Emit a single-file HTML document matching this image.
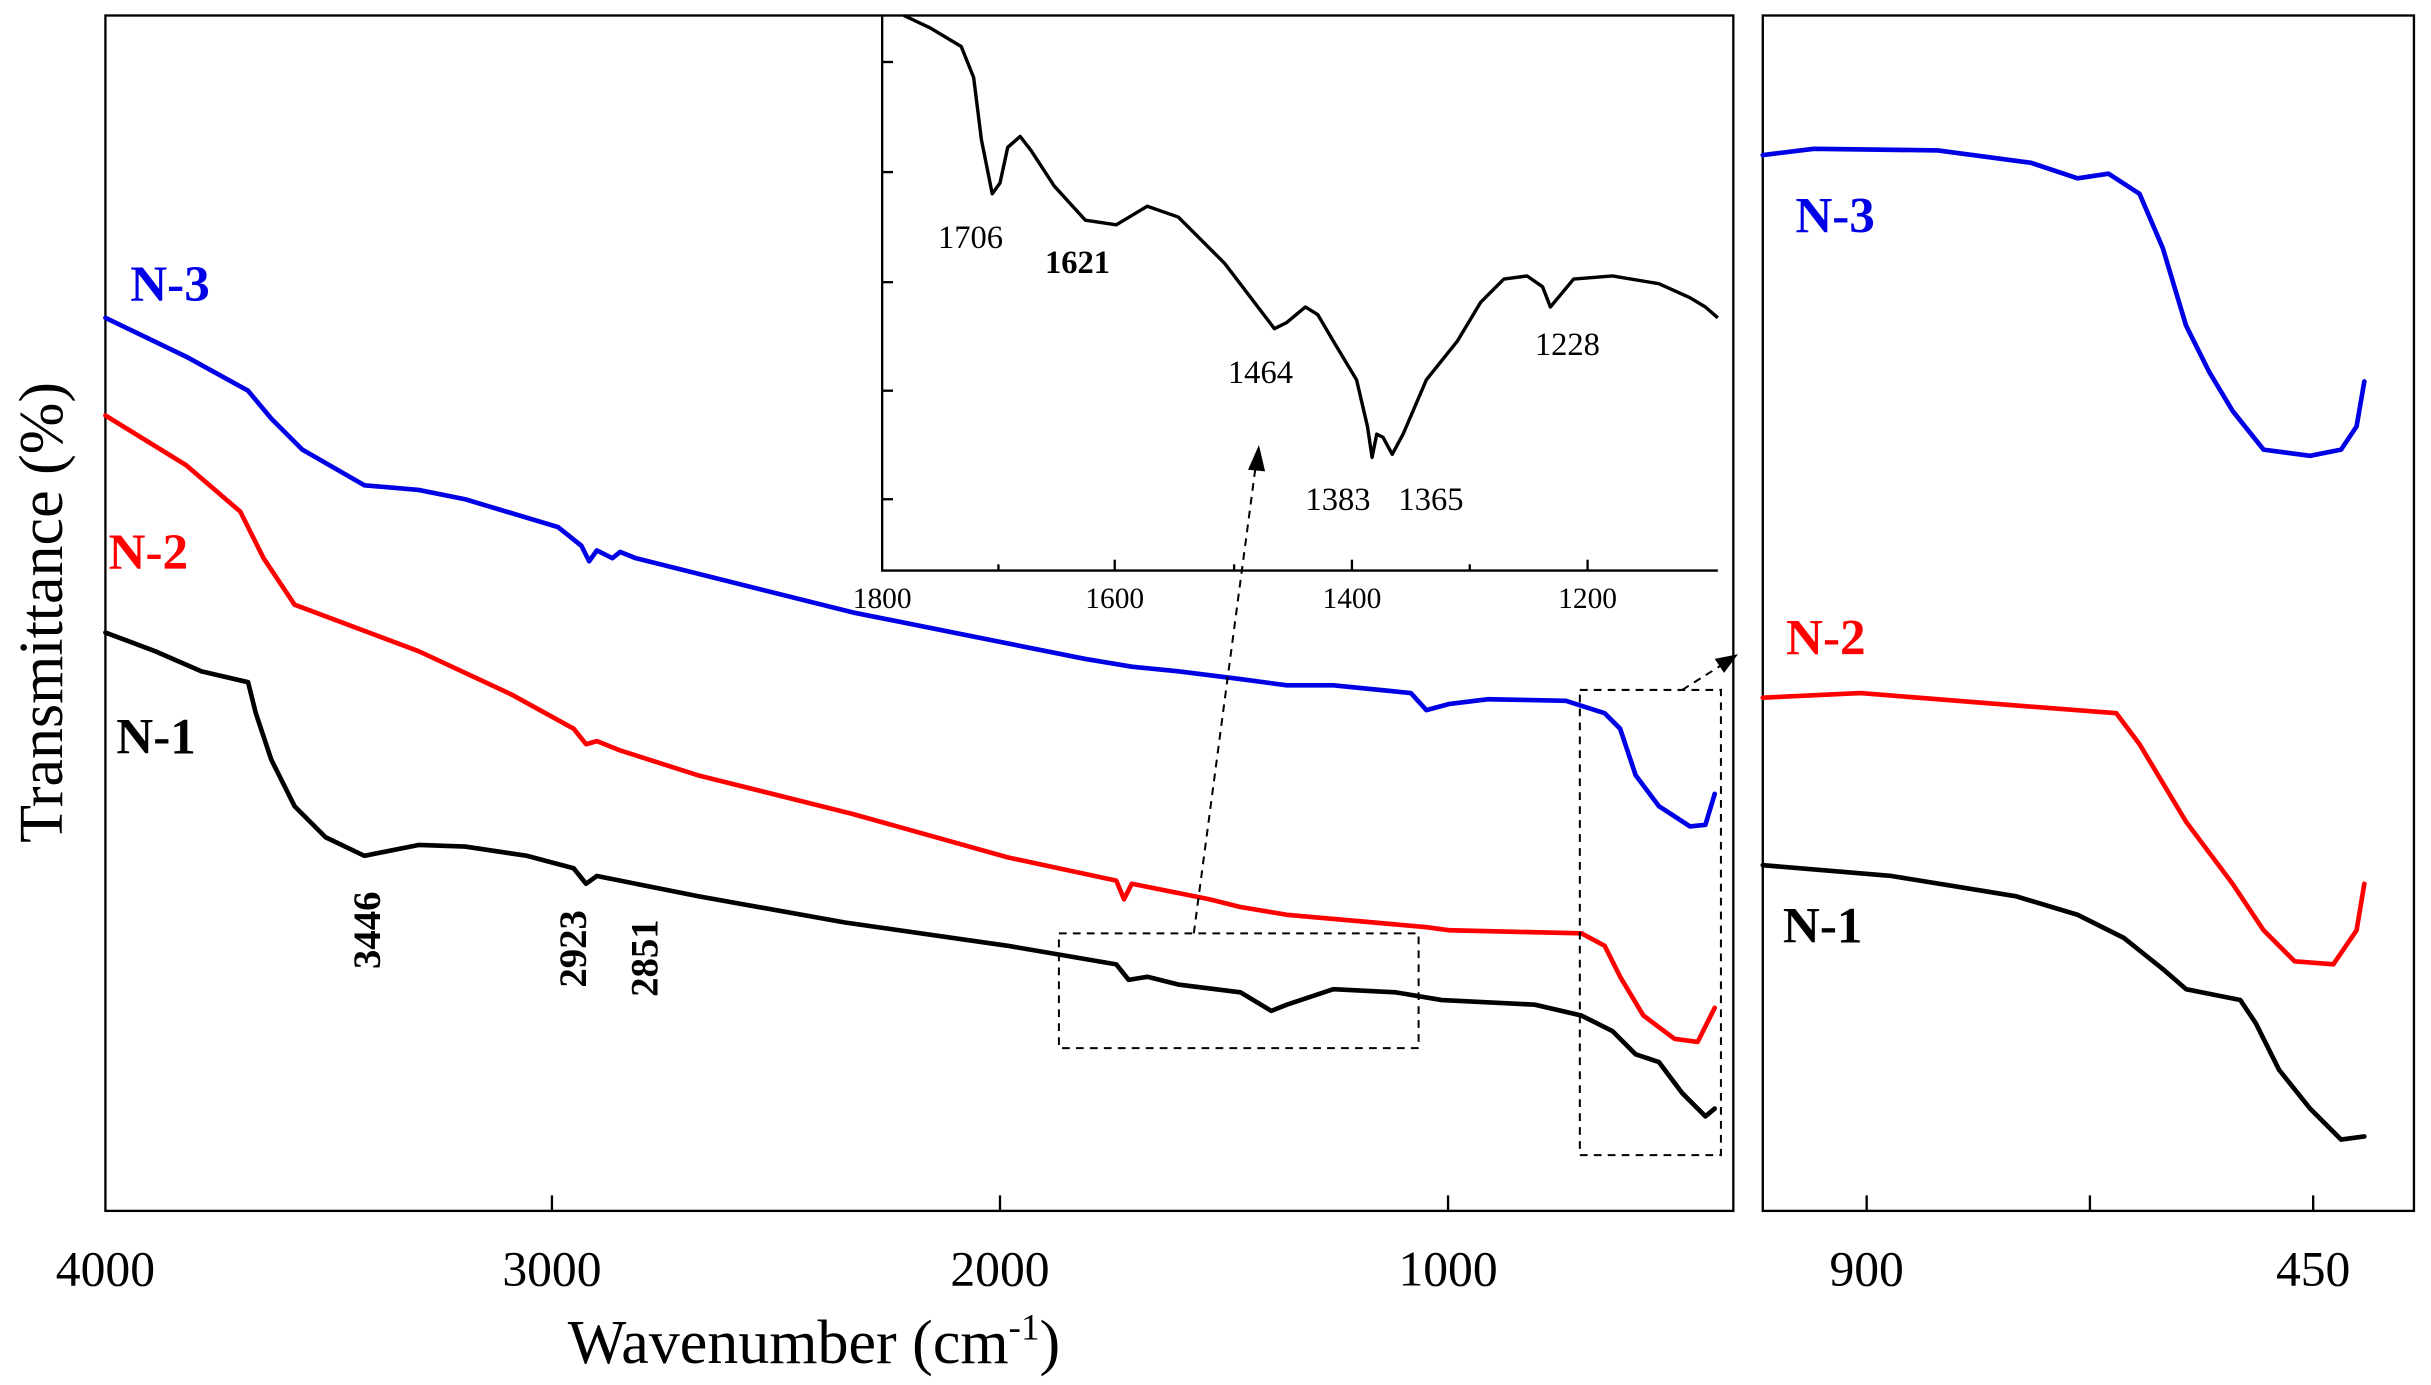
<!DOCTYPE html>
<html><head><meta charset="utf-8"><style>html,body{margin:0;padding:0;background:#fff}svg{display:block}</style></head>
<body>
<svg width="2431" height="1385" viewBox="0 0 1568 893.3" preserveAspectRatio="none" xmlns="http://www.w3.org/2000/svg" font-family="'Liberation Serif',serif">
<rect width="1568" height="894" fill="#fff"/>
<rect x="68" y="10" width="1050" height="771" fill="none" stroke="#000" stroke-width="1.5"/>
<rect x="1137" y="10" width="420" height="771" fill="none" stroke="#000" stroke-width="1.5"/>
<g stroke="#000" stroke-width="1.5">
<line x1="356" y1="781" x2="356" y2="771"/><line x1="645" y1="781" x2="645" y2="771"/><line x1="934" y1="781" x2="934" y2="771"/>
<line x1="1204" y1="781" x2="1204" y2="771"/><line x1="1348" y1="781" x2="1348" y2="771"/><line x1="1492" y1="781" x2="1492" y2="771"/>
</g>
<g font-size="32" text-anchor="middle">
<text x="68" y="829">4000</text><text x="356" y="829">3000</text><text x="645" y="829">2000</text><text x="934" y="829">1000</text>
<text x="1204" y="829">900</text><text x="1492" y="829">450</text>
</g>
<text x="525" y="879" font-size="40" text-anchor="middle">Wavenumber (cm<tspan font-size="24" dy="-15">-1</tspan><tspan dy="15">)</tspan></text>
<text transform="translate(40,395) rotate(-90)" font-size="40" text-anchor="middle">Transmittance (%)</text>

<g fill="none" stroke-width="3" stroke-linejoin="round" stroke-linecap="round">
<polyline stroke="#0000e6" points="68,205 120,230 160,252 175,270 195,290 235,313 270,316 300,322 360,340 375,352 380,362 385,355 395,360 400,356 410,360 450,370 550,395 700,425 730,430 760,433 800,438 830,442 860,442 910,447 920,458 935,454 960,451 1010,452 1035,460 1045,470 1055,500 1070,520 1090,533 1100,532 1106,512"/>
<polyline stroke="#ff0000" points="68,268 120,300 155,330 170,360 190,390 230,405 270,420 330,448 370,470 378,480 385,478 400,484 450,500 550,525 650,553 720,568 725,580 730,570 780,580 800,585 830,590 920,598 935,600 1020,602 1035,610 1045,630 1060,655 1080,670 1095,672 1106,650"/>
<polyline stroke="#000" points="68,408 100,420 130,433 160,440 165,460 175,490 190,520 210,540 235,552 270,545 300,546 340,552 370,560 378,570 385,565 400,568 450,578 545,595 650,610 720,622 728,632 740,630 760,635 800,640 820,652 830,648 860,638 900,640 930,645 990,648 1020,655 1040,665 1055,680 1070,685 1085,705 1100,720 1106,715"/>
<polyline stroke="#0000e6" points="1137,100 1170,96 1250,97 1310,105 1340,115 1360,112 1380,125 1395,160 1410,210 1425,240 1440,265 1460,290 1490,294 1510,290 1520,275 1525,246"/>
<polyline stroke="#ff0000" points="1137,450 1200,447 1300,455 1365,460 1380,480 1395,505 1410,530 1425,550 1440,570 1460,600 1480,620 1505,622 1520,600 1525,570"/>
<polyline stroke="#000" points="1137,558 1220,565 1300,578 1340,590 1370,605 1395,625 1410,638 1430,642 1445,645 1455,660 1470,690 1490,715 1510,735 1525,733"/>
</g>
<g font-size="33" font-weight="bold">
<text x="84" y="194" fill="#0000e6">N-3</text>
<text x="70" y="367" fill="#ff0000">N-2</text>
<text x="75" y="486" fill="#000">N-1</text>
<text x="1158" y="150" fill="#0000e6">N-3</text>
<text x="1152" y="422" fill="#ff0000">N-2</text>
<text x="1150" y="608" fill="#000">N-1</text>
</g>
<g font-size="25" font-weight="bold">
<text transform="translate(245,625) rotate(-90)">3446</text>
<text transform="translate(378,637) rotate(-90)">2923</text>
<text transform="translate(424,643) rotate(-90)">2851</text>
</g>
<g fill="none" stroke="#000" stroke-width="1.3" stroke-dasharray="5,4">
<rect x="683" y="602" width="232" height="74"/>
<rect x="1019" y="445" width="91" height="300"/>
<line x1="770" y1="602" x2="810" y2="300"/>
<line x1="1085" y1="445" x2="1112" y2="428"/>
</g>
<polygon points="812,287 805,303 816,304" fill="#000"/>
<polygon points="1121,422 1106,425 1112,434" fill="#000"/>
<g stroke="#000" stroke-width="1.5" fill="none">
<polyline points="569,10 569,368 1108,368"/>
<line x1="569" y1="40" x2="576" y2="40"/><line x1="569" y1="111" x2="576" y2="111"/><line x1="569" y1="182" x2="576" y2="182"/><line x1="569" y1="252" x2="576" y2="252"/><line x1="569" y1="322" x2="576" y2="322"/>
<line x1="719" y1="368" x2="719" y2="361"/><line x1="872" y1="368" x2="872" y2="361"/><line x1="1024" y1="368" x2="1024" y2="361"/>
<line x1="644" y1="368" x2="644" y2="364"/><line x1="796" y1="368" x2="796" y2="364"/><line x1="948" y1="368" x2="948" y2="364"/>
</g>
<g font-size="19" text-anchor="middle">
<text x="569" y="392">1800</text><text x="719" y="392">1600</text><text x="872" y="392">1400</text><text x="1024" y="392">1200</text>
</g>
<polyline fill="none" stroke="#000" stroke-width="2.2" stroke-linejoin="round" points="583,10 600,18 620,30 628,50 633,90 640,125 645,118 650,95 658,88 665,97 680,120 700,142 720,145 740,133 760,140 790,170 822,212 830,208 842,198 850,203 860,220 875,245 882,275 885,295 888,280 892,282 898,293 905,280 920,245 940,220 955,195 970,180 985,178 995,185 1000,198 1005,192 1015,180 1040,178 1070,183 1090,192 1100,198 1108,205"/>
<g font-size="21">
<text x="605" y="160">1706</text>
<text x="674" y="176" font-weight="bold">1621</text>
<text x="792" y="247">1464</text>
<text x="842" y="329">1383</text>
<text x="902" y="329">1365</text>
<text x="990" y="229">1228</text>
</g>
</svg>
</body></html>
